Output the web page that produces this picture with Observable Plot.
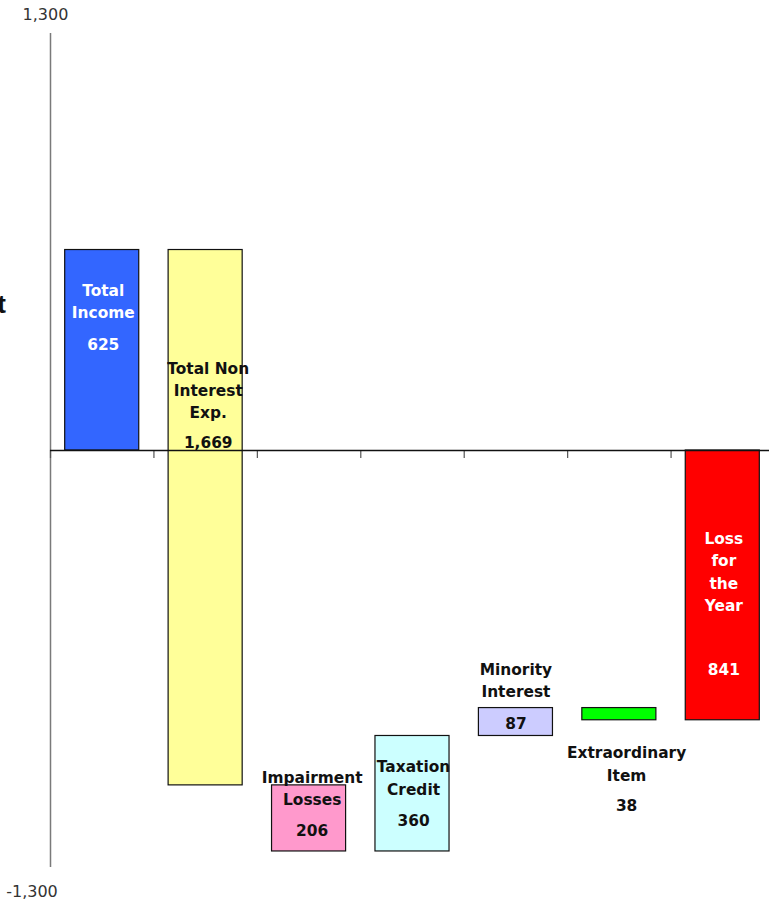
<!DOCTYPE html>
<html>
<head>
<meta charset="utf-8">
<script src="https://cdn.jsdelivr.net/npm/d3@7"></script>
<script src="https://cdn.jsdelivr.net/npm/@observablehq/plot@0.6"></script>
<style>
  html, body { margin: 0; padding: 0; background: #fff; overflow: hidden; }
  #chart svg { display: block; }
</style>
</head>
<body>
<div id="chart"></div>
<script>
// Waterfall of the year's result (in millions)
const categories = [
  "Total Income",
  "Total Non Interest Exp.",
  "Impairment Losses",
  "Taxation Credit",
  "Minority Interest",
  "Extraordinary Item",
  "Loss for the Year"
];
const titles = [
  "Total\nIncome",
  "Total Non\nInterest\nExp.",
  "Impairment\nLosses",
  "Taxation\nCredit",
  "Minority\nInterest",
  "Extraordinary\nItem",
  "Loss\nfor\nthe\nYear"
];
// signed movements; the last bar is the resulting total
const changes = [625, -1669, -206, 360, 87, -38];
const lossForYear = -841;
const valueLabels = ["625", "1,669", "206", "360", "87", "38", "841"];
const barColors = ["#3366FF", "#FFFF99", "#FF99CC", "#CCFFFF", "#CCCCFF", "#00FF00", "#FF0000"];
const labelColors = ["#ffffff", "#111", "#111", "#111", "#111", "#111", "#ffffff"];
const yTicks = [1300, -1300];
const yTickLabels = ["1,300", "-1,300"];

// Build the floating bars from the running total
let running = 0;
const bars = changes.map((v, i) => {
  const start = running;
  running += v;
  return { i, y1: start, y2: running };
});
bars.push({ i: changes.length, y1: 0, y2: lossForYear });

// Plot geometry
const W = 769, H = 900;
const yRange = [867, 33];
const unitsPerPx = (yTicks[0] - yTicks[1]) / (yRange[0] - yRange[1]);
const pad = 0.142;

// label placement: pixel offsets from each bar's upper (or lower) edge
const anchorAtBottom = [false, false, false, false, false, true, false];
const titleOffset = [50, 139, 1.5, 40.5, -29, 42, 120];
const valueOffset = [95.5, 193.5, 45.5, 85.5, 15.5, 85.5, 220];
const labelShift = [0.01, 0.025, 0.03, 0.01, 0, 0.07, 0.01];

const labels = bars.map((b, k) => {
  const edge = anchorAtBottom[k] ? Math.min(b.y1, b.y2) : Math.max(b.y1, b.y2);
  return {
    x: b.i + 0.5 + labelShift[k],
    title: titles[k],
    value: valueLabels[k],
    color: labelColors[k],
    yTitle: edge - titleOffset[k] * unitsPerPx,
    yValue: edge - valueOffset[k] * unitsPerPx
  };
});

const font = "DejaVu Sans";
const tickLen = 8 * unitsPerPx;

const chart = Plot.plot({
  width: W,
  height: H,
  marginLeft: 50,
  marginRight: 0,
  marginTop: 33,
  marginBottom: 33,
  style: { fontFamily: font, background: "#fff", overflow: "hidden" },
  x: { type: "linear", domain: [0, 7], range: [50, 774], axis: null },
  y: { domain: [yTicks[1], yTicks[0]], range: yRange, axis: null },
  color: { type: "identity" },
  marks: [
    // value axis line
    Plot.ruleX([0], { y1: yTicks[1], y2: yTicks[0], stroke: "#7a7a7a", strokeWidth: 1.5 }),
    // floating bars
    Plot.rect(bars.map((b, k) => ({ ...b, fill: barColors[k] })), {
      x1: d => d.i + pad,
      x2: d => d.i + 1 - pad,
      y1: "y1",
      y2: "y2",
      fill: "fill",
      stroke: "#111",
      strokeWidth: 1.2
    }),
    // category separators hanging from the zero line
    Plot.ruleX(d3.range(7), { y1: 0, y2: -tickLen, stroke: "#555", strokeWidth: 1.2 }),
    // zero line
    Plot.ruleY([0], { x1: 0, x2: 7, stroke: "#111", strokeWidth: 1.6 }),
    // axis end labels
    Plot.text([yTickLabels[0]], { x: 0, y: yTicks[0], dx: -5, dy: -18.5, fontSize: 16, fill: "#333", textAnchor: "middle" }),
    Plot.text([yTickLabels[1]], { x: 0, y: yTicks[1], dx: -18.5, dy: 24.5, fontSize: 16, fill: "#333", textAnchor: "middle" }),
    // truncated axis caption at the left edge
    Plot.text(["t"], { x: 0, y: (450 - 304) * unitsPerPx, dx: -44.5, textAnchor: "end", fontSize: 26, fontWeight: "bold", fontFamily: "Liberation Sans", fill: "#111" }),
    // category titles
    Plot.text(labels, {
      x: "x", y: "yTitle", text: "title", fill: "color",
      fontSize: 15.4, fontWeight: "bold", lineHeight: 1.45, lineAnchor: "middle", textAnchor: "middle"
    }),
    // values
    Plot.text(labels, {
      x: "x", y: "yValue", text: "value", fill: "color",
      fontSize: 15.4, fontWeight: "bold", lineAnchor: "middle", textAnchor: "middle"
    })
  ]
});

document.getElementById("chart").appendChild(chart);
</script>
</body>
</html>
